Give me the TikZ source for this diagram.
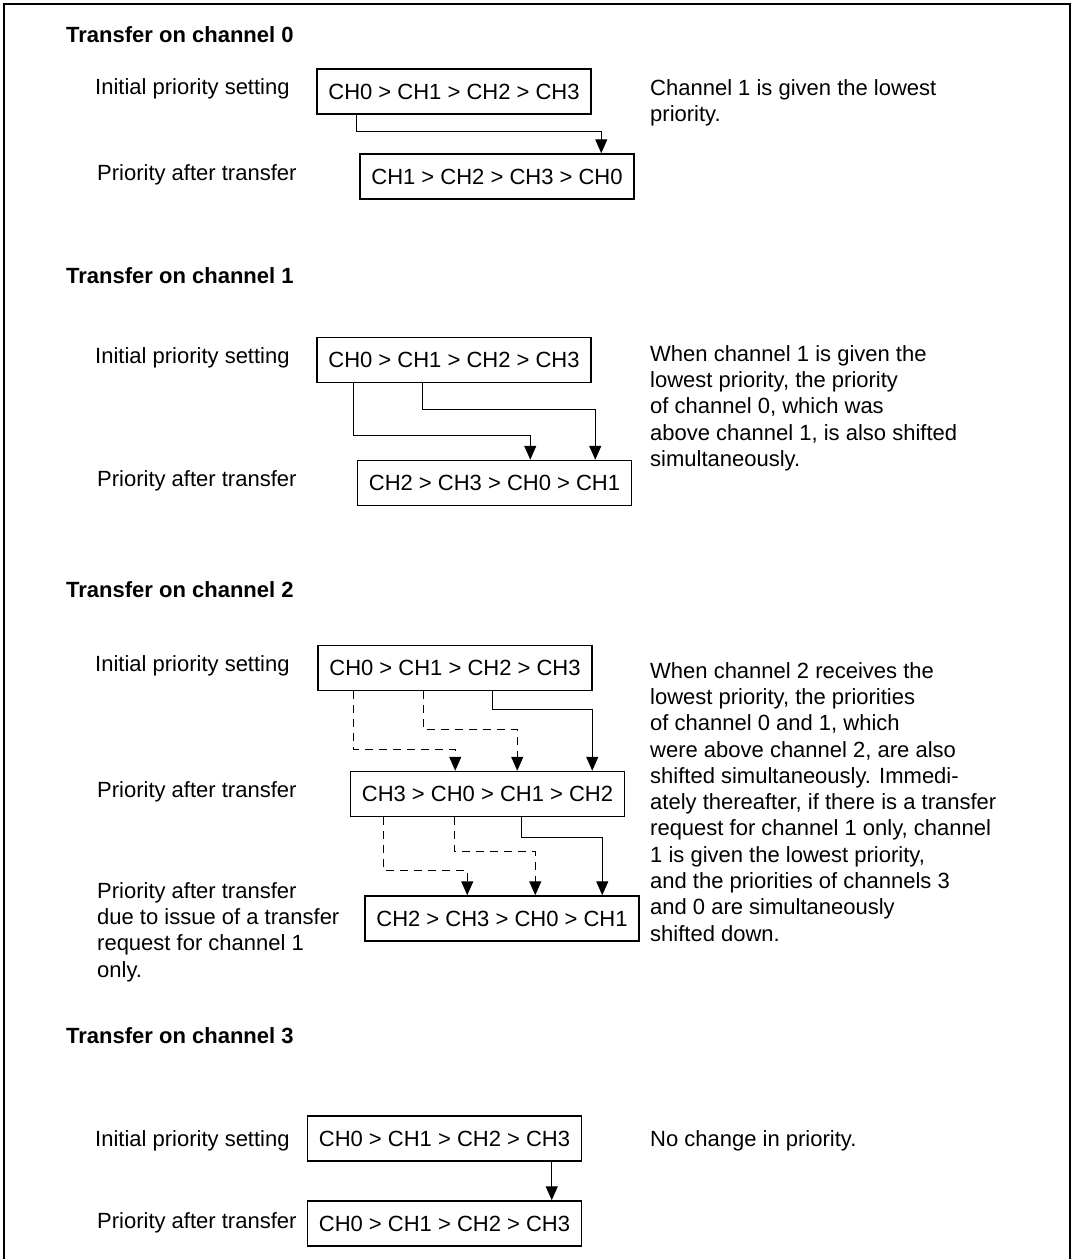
\documentclass[tikz,border=0pt]{standalone}
\usepackage{fontspec}
\setmainfont{Liberation Sans}
\usetikzlibrary{arrows.meta, calc}

\begin{document}
\begin{tikzpicture}[
		x=1pt, y=-1pt,
		>={Triangle[length=14pt, width=12pt]},
		font=\fontsize{22}{26.3}\selectfont,
		chbox/.style={draw, line width=1.5pt, minimum width=274pt, minimum height=45pt, inner sep=0pt},
		lbl/.style={anchor=base west, inner sep=0pt},
		note/.style={anchor=north west, align=left, inner sep=0pt},
		secttl/.style={anchor=base west, inner sep=0pt, font=\fontsize{22}{26.3}\selectfont\bfseries},
		solidarr/.style={->, line width=1.3pt},
		dasharr/.style={->, line width=1.3pt, dash pattern=on 8pt off 6pt}
		]
		
		\useasboundingbox (0,0) rectangle (1073,1259);
		\draw[line width=2pt] (4,1259) -- (4,4) -- (1070,4) -- (1070,1259);
		
		% =========================================================
		% 1. Transfer on channel 0
		% =========================================================
		\node[secttl] (T0) at (66,42) {Transfer on channel 0};
		\node[lbl] (InitL0) at (95,94) {Initial priority setting};
		\node[lbl] (AfterL0) at (97,180) {Priority after transfer};
		\node[chbox] (A0) at (454,91.5) {CH0 > CH1 > CH2 > CH3};
		\node[chbox] (B0) at (497,176.5) {CH1 > CH2 > CH3 > CH0};
		\node[note] (N0) at (650,79) {Channel 1 is given the lowest\\priority.};
		
		\draw[solidarr] ([xshift=40pt]A0.south west) -- ++(0,17) -| ([xshift=242pt]B0.north west);
		
		% =========================================================
		% 2. Transfer on channel 1
		% =========================================================
		\node[secttl] (T1) at (66,283) {Transfer on channel 1};
		\node[lbl] (InitL1) at (95,363) {Initial priority setting};
		\node[lbl] (AfterL1) at (97,486) {Priority after transfer};
		\node[chbox] (A1) at (454,360) {CH0 > CH1 > CH2 > CH3};
		\node[chbox] (B1) at (494.5,483) {CH2 > CH3 > CH0 > CH1};
		\node[note] (N1) at (650,345) {When channel 1 is given the\\lowest priority, the priority\\of channel 0, which was\\above channel 1, is also shifted\\simultaneously.};
		
		\draw[solidarr] ([xshift=37pt]A1.south west) -- ++(0,52) -| ([xshift=173.5pt]B1.north west);
		\draw[solidarr] ([xshift=106pt]A1.south west) -- ++(0,26) -| ([xshift=238.5pt]B1.north west);
		
		% =========================================================
		% 3. Transfer on channel 2
		% =========================================================
		\node[secttl] (T2) at (66,597) {Transfer on channel 2};
		\node[lbl] (InitL2) at (95,671) {Initial priority setting};
		\node[lbl] (AfterL2) at (97,797) {Priority after transfer};
		\node[note] (AfterL2b) at (97,882) {Priority after transfer\\due to issue of a transfer\\request for channel 1\\only.};
		\node[chbox] (A2) at (455,668) {CH0 > CH1 > CH2 > CH3};
		\node[chbox] (B2) at (487.5,794) {CH3 > CH0 > CH1 > CH2};
		\node[chbox] (C2) at (502,918.5) {CH2 > CH3 > CH0 > CH1};
		\node[note] (N2) at (650,662) {When channel 2 receives the\\lowest priority, the priorities\\of channel 0 and 1, which\\were above channel 2, are also\\shifted simultaneously. Immedi-\\ately thereafter, if there is a transfer\\request for channel 1 only, channel\\1 is given the lowest priority,\\and the priorities of channels 3\\and 0 are simultaneously\\shifted down.};
		
		% first transfer (channel 2)
		\draw[dasharr] ([xshift=36pt]A2.south west) -- ++(0,58.5) -| ([xshift=105.5pt]B2.north west);
		\draw[dasharr] ([xshift=106pt]A2.south west) -- ++(0,38.5) -| ([xshift=167.5pt]B2.north west);
		\draw[solidarr] ([xshift=175pt]A2.south west) -- ++(0,18.5) -| ([xshift=242.5pt]B2.north west);
		% then channel 1 only
		\draw[dasharr] ([xshift=33.5pt]B2.south west) -- ++(0,53.5) -| ([xshift=103pt]C2.north west);
		\draw[dasharr] ([xshift=104.5pt]B2.south west) -- ++(0,34.5) -| ([xshift=171pt]C2.north west);
		\draw[solidarr] ([xshift=171.5pt]B2.south west) -- ++(0,20.5) -| ([xshift=238pt]C2.north west);
		
		% =========================================================
		% 4. Transfer on channel 3
		% =========================================================
		\node[secttl] (T3) at (66,1043) {Transfer on channel 3};
		\node[lbl] (InitL3) at (95,1146) {Initial priority setting};
		\node[lbl] (AfterL3) at (97,1228) {Priority after transfer};
		\node[chbox] (A3) at (444.5,1138.5) {CH0 > CH1 > CH2 > CH3};
		\node[chbox] (B3) at (444.5,1223.5) {CH0 > CH1 > CH2 > CH3};
		\node[lbl] (N3) at (650,1146) {No change in priority.};
		
		\draw[solidarr] ([xshift=245pt]A3.south west) -- ([xshift=245pt]B3.north west);
	\end{tikzpicture}
\end{document}
